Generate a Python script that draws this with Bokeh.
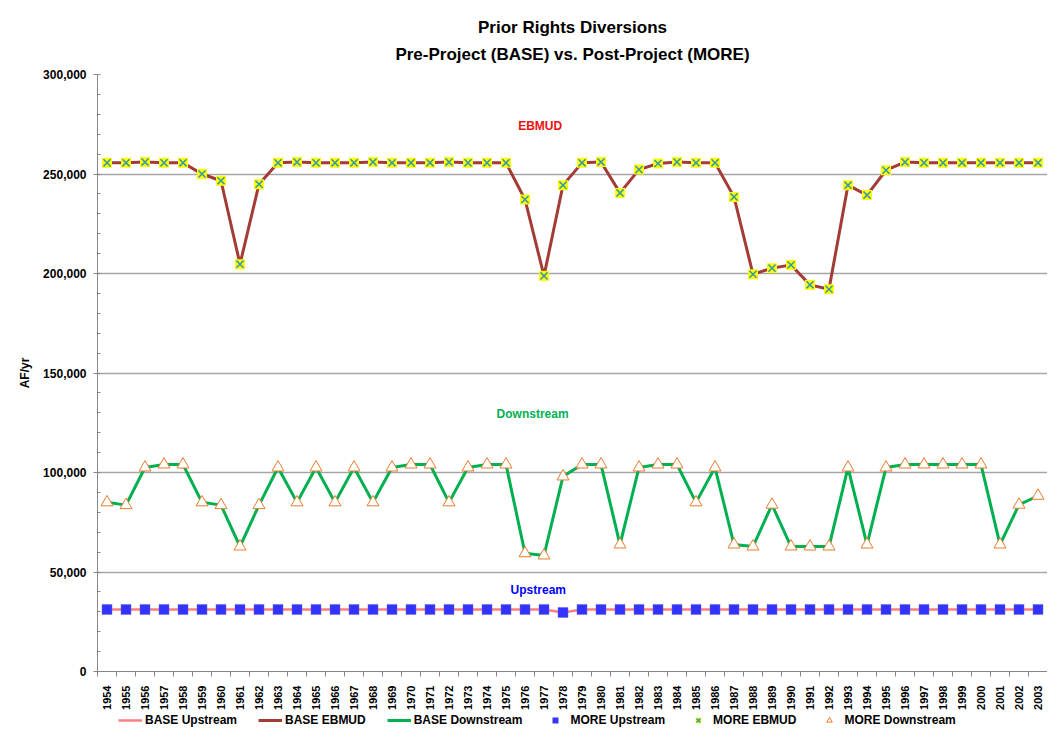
import math
from bokeh.plotting import figure
from bokeh.layouts import column
from bokeh.models import (FixedTicker, NumeralTickFormatter, Legend, LegendItem,
                          Label, Title, ColumnDataSource)
from bokeh.embed import file_html
from bokeh.resources import INLINE

years = [1954, 1955, 1956, 1957, 1958, 1959, 1960, 1961, 1962, 1963,
         1964, 1965, 1966, 1967, 1968, 1969, 1970, 1971, 1972, 1973,
         1974, 1975, 1976, 1977, 1978, 1979, 1980, 1981, 1982, 1983,
         1984, 1985, 1986, 1987, 1988, 1989, 1990, 1991, 1992, 1993,
         1994, 1995, 1996, 1997, 1998, 1999, 2000, 2001, 2002, 2003]

base_upstream = [31200, 31200, 31200, 31200, 31200, 31200, 31200, 31200, 31200, 31200,
                 31200, 31200, 31200, 31200, 31200, 31200, 31200, 31200, 31200, 31200,
                 31200, 31200, 31200, 31200, 29700, 31200, 31200, 31200, 31200, 31200,
                 31200, 31200, 31200, 31200, 31200, 31200, 31200, 31200, 31200, 31200,
                 31200, 31200, 31200, 31200, 31200, 31200, 31200, 31200, 31200, 31200]

base_ebmud = [255600, 255600, 256000, 255600, 255600, 250000, 246600, 204700, 244900, 255600,
              256000, 255600, 255600, 255600, 256000, 255600, 255600, 255600, 256000, 255600,
              255600, 255600, 237200, 198800, 244400, 255600, 256000, 240500, 252200, 255300,
              256000, 255600, 255600, 238500, 199600, 202700, 204300, 194300, 192100, 244400,
              239400, 251900, 256000, 255600, 255600, 255600, 255600, 255600, 255600, 255600]

base_downstream = [85000, 83600, 102500, 104000, 104000, 85000, 83600, 62800, 83600, 102500,
                   85000, 102500, 85000, 102500, 85000, 102500, 104000, 104000, 85000, 102500,
                   104000, 104000, 59400, 58300, 98000, 104000, 104000, 63800, 102500, 104000,
                   104000, 85000, 102500, 63800, 62800, 83800, 62800, 62800, 62800, 102500,
                   63800, 102500, 104000, 104000, 104000, 104000, 104000, 63800, 83800, 88300]

more_upstream = list(base_upstream)
more_ebmud = list(base_ebmud)
more_downstream = list(base_downstream)

y_ticks = [0, 50000, 100000, 150000, 200000, 250000, 300000]

src = ColumnDataSource(dict(
    year=years,
    bu=base_upstream, be=base_ebmud, bd=base_downstream,
    mu=more_upstream, me=more_ebmud, md=more_downstream,
))

FONT = "Liberation Sans"
W = 1047

p = figure(width=W, height=712, output_backend="svg", toolbar_location=None,
           x_range=(1953.5, 2003.5), y_range=(0, 300000),
           min_border_left=97, min_border_right=0, min_border_top=74,
           min_border_bottom=39)
p.background_fill_color = "white"
p.border_fill_color = "white"
p.outline_line_color = None

# titles: the one added later stacks further from the plot
p.add_layout(Title(text="Pre-Project (BASE) vs. Post-Project (MORE)", align="center",
                   text_font=FONT, text_font_size="17px", text_font_style="bold",
                   text_color="black", standoff=21), "above")
p.add_layout(Title(text="Prior Rights Diversions", align="center",
                   text_font=FONT, text_font_size="17px", text_font_style="bold",
                   text_color="black", standoff=-8), "above")

# axes
minor_x = [y - 0.5 for y in years] + [years[-1] + 0.5]
p.xaxis.ticker = FixedTicker(ticks=years, minor_ticks=minor_x)
p.xaxis.major_label_orientation = math.pi / 2
p.xaxis.major_tick_line_color = None
p.xaxis.major_tick_out = 0
p.xaxis.major_tick_in = 0
p.xaxis.minor_tick_in = 0
p.xaxis.minor_tick_out = 5
p.xaxis.minor_tick_line_color = "#868686"
p.xaxis.axis_line_color = "#868686"
p.xaxis.major_label_text_font = FONT
p.xaxis.major_label_text_font_size = "11px"
p.xaxis.major_label_text_font_style = "bold"
p.xaxis.major_label_text_color = "black"
p.xaxis.major_label_standoff = 9

p.yaxis.ticker = FixedTicker(ticks=y_ticks, minor_ticks=list(range(0, 300001, 10000)))
p.yaxis.formatter = NumeralTickFormatter(format="0,0")
p.yaxis.axis_line_color = "#868686"
p.yaxis.major_tick_line_color = "#868686"
p.yaxis.minor_tick_line_color = "#868686"
p.yaxis.major_tick_out = 4
p.yaxis.major_tick_in = 0
p.yaxis.minor_tick_out = 0
p.yaxis.minor_tick_in = 3
p.yaxis.major_label_text_font = FONT
p.yaxis.major_label_text_font_size = "12px"
p.yaxis.major_label_text_font_style = "bold"
p.yaxis.major_label_text_color = "black"
p.yaxis.major_label_standoff = 7
p.yaxis.axis_label = "AF/yr"
p.yaxis.axis_label_text_font = FONT
p.yaxis.axis_label_text_font_size = "12px"
p.yaxis.axis_label_text_font_style = "bold"
p.yaxis.axis_label_text_color = "black"
p.yaxis.axis_label_standoff = 8

p.xgrid.grid_line_color = None
p.ygrid.ticker = FixedTicker(ticks=y_ticks)
p.ygrid.grid_line_color = "#A6A6A6"
p.ygrid.grid_line_width = 1.5


def add_series(fig):
    r_bu = fig.line("year", "bu", source=src, line_color="#FF7F7F", line_width=2.5)
    r_be = fig.line("year", "be", source=src, line_color="#A33B36", line_width=3)
    r_bd = fig.line("year", "bd", source=src, line_color="#00B050", line_width=3)
    r_mu = fig.scatter("year", "mu", source=src, marker="square", size=10,
                       fill_color="#3333FF", line_color="#6666CC", line_width=0.5)
    r_me1 = fig.scatter("year", "me", source=src, marker="square", size=10,
                        fill_color="#FFFF00", line_color=None)
    r_me2 = fig.scatter("year", "me", source=src, marker="x", size=10,
                        line_color="#3399AA", line_width=1.5)
    r_md = fig.scatter("year", "md", source=src, marker="triangle", size=12,
                       fill_color="white", line_color="#E87D2E", line_width=1)
    return r_bu, r_be, r_bd, r_mu, r_me1, r_me2, r_md


add_series(p)

# series labels
for txt, lx, ly, col in [("EBMUD", 1976.8, 274000, "#EE1111"),
                         ("Downstream", 1976.4, 129200, "#00B050"),
                         ("Upstream", 1976.7, 41000, "#0000FF")]:
    p.add_layout(Label(x=lx, y=ly, text=txt, text_align="center", text_baseline="middle",
                       text_font=FONT, text_font_size="12px", text_font_style="bold",
                       text_color=col))

# legend strip (separate figure, same glyph styles, data kept out of view)
lp = figure(width=W, height=16, output_backend="svg", toolbar_location=None,
            x_range=(0, 1), y_range=(0, 1), x_axis_type=None, y_axis_type=None,
            min_border=0)
lp.outline_line_color = None
lp.xgrid.visible = False
lp.ygrid.visible = False
lp.background_fill_color = "white"
lp.border_fill_color = "white"
r_bu, r_be, r_bd, r_mu, r_me1, r_me2, r_md = add_series(lp)

legend = Legend(items=[
    LegendItem(label="BASE Upstream", renderers=[r_bu]),
    LegendItem(label="BASE EBMUD", renderers=[r_be]),
    LegendItem(label="BASE Downstream", renderers=[r_bd]),
    LegendItem(label="MORE Upstream", renderers=[r_mu]),
    LegendItem(label="MORE EBMUD", renderers=[r_me1, r_me2]),
    LegendItem(label="MORE Downstream", renderers=[r_md]),
], orientation="horizontal", location=(21, 0))
legend.label_text_font = FONT
legend.label_text_font_size = "12px"
legend.label_text_font_style = "bold"
legend.label_text_color = "black"
legend.border_line_color = None
legend.background_fill_alpha = 0
legend.glyph_width = 24
legend.glyph_height = 14
legend.label_height = 16
legend.label_standoff = 3
legend.spacing = 21
legend.padding = 0
legend.margin = 0
lp.add_layout(legend, "center")

layout = column(p, lp, spacing=0)
open("out.html", "w").write(file_html(layout, INLINE))
